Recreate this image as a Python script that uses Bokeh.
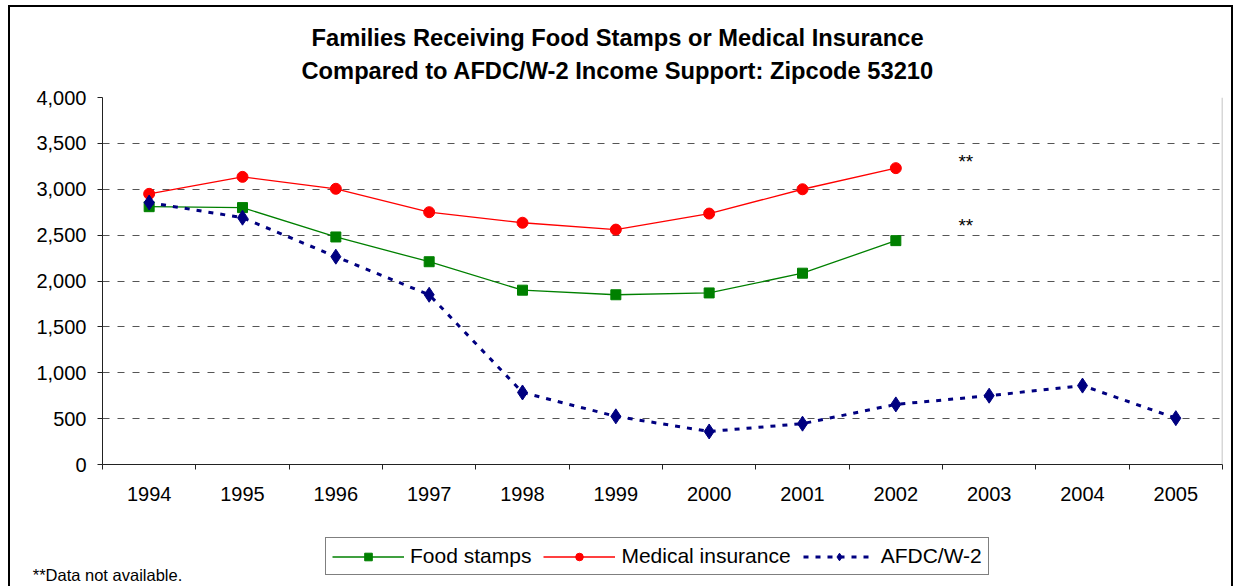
from bokeh.plotting import figure
from bokeh.layouts import column
from bokeh.models import (Range1d, FixedTicker, NumeralTickFormatter, Legend, LegendItem,
                          Label, Span, Title, LinearAxis)
from bokeh.embed import file_html
from bokeh.resources import INLINE

# ---- data ----
years = [1994, 1995, 1996, 1997, 1998, 1999, 2000, 2001, 2002, 2003, 2004, 2005]
fs_years = [1994, 1995, 1996, 1997, 1998, 1999, 2000, 2001, 2002]
food_stamps = [2810, 2800, 2480, 2210, 1900, 1850, 1870, 2085, 2440]
medical_insurance = [2950, 3135, 3005, 2750, 2635, 2560, 2735, 3000, 3230]
afdc_w2 = [2855, 2690, 2265, 1850, 785, 525, 360, 445, 655, 750, 860, 505]
y_ticks = [0, 500, 1000, 1500, 2000, 2500, 3000, 3500, 4000]
year_labels = [str(y) for y in years]

series_names = ["Food stamps", "Medical insurance", "AFDC/W-2"]
series_colors = ["#008000", "#FF0000", "#000080"]

title_line1 = "Families Receiving Food Stamps or Medical Insurance"
title_line2 = "Compared to AFDC/W-2 Income Support: Zipcode 53210"
note_text = "**Data not available."
FONT = "Liberation Sans"

W, H_MAIN, H_FOOT = 1235, 536, 50
FRAME_L, FRAME_R = 102, 1222
frame_css = {
    "background-color": "white",
    "box-shadow": ("inset 8px 0 0 white, inset 0 5px 0 white, inset -2px 0 0 white, "
                   "inset 10px 0 0 black, inset 0 7px 0 black, inset -4px 0 0 black"),
}

# ---------------- main chart ----------------
p = figure(width=W, height=H_MAIN, output_backend="svg", toolbar_location=None,
           x_range=Range1d(years[0] - 0.5, years[-1] + 0.5),
           y_range=Range1d(y_ticks[0], y_ticks[-1]),
           min_border_left=FRAME_L, min_border_right=W - FRAME_R, min_border_top=97,
           min_border_bottom=72, title=None)
p.background_fill_color = "white"
p.border_fill_color = None
p.outline_line_color = None

title_style = dict(align="left", vertical_align="top", text_font=FONT, text_font_size="23.7px",
                   text_font_style="bold", text_color="black")
p.add_layout(Title(text=title_line2, offset=199, standoff=23, **title_style), "above")
p.add_layout(Title(text=title_line1, offset=209, standoff=-12, **title_style), "above")

p.xaxis.ticker = FixedTicker(ticks=years, minor_ticks=[y - 0.5 for y in years] + [years[-1] + 0.5])
p.xaxis.major_label_overrides = {y: l for y, l in zip(years, year_labels)}
p.xaxis.major_tick_line_color = None
p.xaxis.major_tick_out = 0
p.xaxis.major_tick_in = 0
p.xaxis.minor_tick_line_color = "#222222"
p.xaxis.minor_tick_out = 5
p.xaxis.minor_tick_in = 0
p.xaxis.major_label_standoff = 17
p.yaxis.ticker = FixedTicker(ticks=y_ticks)
p.yaxis.formatter = NumeralTickFormatter(format="0,0")
p.yaxis.major_tick_out = 5
p.yaxis.major_tick_in = 0
p.yaxis.minor_tick_line_color = None
p.yaxis.major_label_standoff = 11
for ax in (p.xaxis, p.yaxis):
    ax.axis_line_color = "#222222"
    ax.major_label_text_font = FONT
    ax.major_label_text_font_size = "20px"
    ax.major_label_text_color = "black"
p.yaxis.major_tick_line_color = "#222222"

p.xgrid.grid_line_color = None
p.ygrid.ticker = FixedTicker(ticks=y_ticks[1:])
p.ygrid.grid_line_color = "#555555"
p.ygrid.grid_line_dash = "7 8"
p.ygrid.grid_line_width = 1

p.add_layout(Span(location=years[-1] + 0.5, dimension="height", line_color="#b0b0b0", line_width=1.5))

line_styles = [dict(line_width=1.3), dict(line_width=1.3), dict(line_width=3, line_dash="5 7")]
marker_styles = [dict(marker="square", size=10), dict(marker="circle", size=11),
                 dict(marker="diamond", size=15)]
series_x = [fs_years, fs_years, years]
series_y = [food_stamps, medical_insurance, afdc_w2]
for xs, ys, c, ls, ms in zip(series_x, series_y, series_colors, line_styles, marker_styles):
    p.line(xs, ys, line_color=c, **ls)
    p.scatter(xs, ys, fill_color=c, line_color=c, **ms)

for yy in (3300, 2600):
    p.add_layout(Label(x=2002.75, y=yy, text="**", text_align="center", text_baseline="middle",
                       text_font=FONT, text_font_size="19px", text_color="black"))

# ---------------- legend + footnote strip ----------------
f = figure(width=W, height=H_FOOT, output_backend="svg", toolbar_location=None,
           x_range=Range1d(FRAME_L, FRAME_R), y_range=Range1d(0, 1),
           x_axis_type=None, y_axis_type=None,
           min_border_left=FRAME_L, min_border_right=W - FRAME_R, min_border_top=0,
           min_border_bottom=0, title=None)
f.background_fill_color = None
f.border_fill_color = None
f.outline_line_color = None
f.grid.grid_line_color = None

nan = float("nan")
items = []
for name, c, ls, ms in zip(series_names, series_colors, line_styles, marker_styles):
    r1 = f.line([nan, nan], [nan, nan], line_color=c, **ls)
    r2 = f.scatter([nan], [nan], fill_color=c, line_color=c, **ms)
    items.append(LegendItem(label=name, renderers=[r1, r2]))

legend = Legend(items=items, orientation="horizontal", location=(223, 4),
                label_text_font=FONT, label_text_font_size="21px", label_text_color="black",
                glyph_width=72, glyph_height=19, label_height=19, label_standoff=6, spacing=12,
                padding=6, margin=0, border_line_color="black", border_line_width=1,
                background_fill_color="white", background_fill_alpha=1)
f.add_layout(legend, "center")

# footnote, centred at x = 107 px under the chart's left edge
note_x = 107
note_axis = LinearAxis(ticker=FixedTicker(ticks=[note_x]), major_label_overrides={note_x: note_text},
                       axis_line_color=None, major_tick_line_color=None, minor_tick_line_color=None,
                       major_tick_out=0, major_tick_in=0, major_label_standoff=-14,
                       major_label_text_font=FONT, major_label_text_font_size="16.5px",
                       major_label_text_color="black")
f.add_layout(note_axis, "below")

layout = column(p, f, spacing=0, styles=frame_css)
open("out.html", "w").write(file_html(layout, INLINE))
